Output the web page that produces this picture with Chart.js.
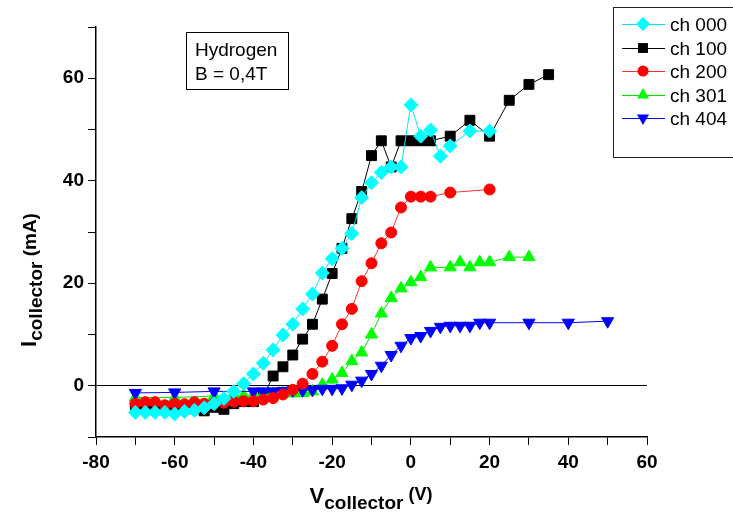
<!DOCTYPE html>
<html>
<head>
<meta charset="utf-8">
<title>Collector current vs voltage</title>
<script src="https://cdn.jsdelivr.net/npm/chart.js"></script>
<style>
    html, body { margin: 0; padding: 0; background: #fff; }
    #wrap { width: 733px; height: 515px; }
</style>
</head>
<body>
<div id="wrap"><canvas id="ivChart" width="733" height="515"></canvas></div>
<script>
// Measured I-V curves, one pair of arrays per channel
const ch000X = [-70, -67.5, -65, -62.5, -60, -57.5, -55, -52.5, -50, -47.5, -45, -42.5, -40, -37.5, -35, -32.5, -30, -27.5, -25, -22.5, -20, -17.5, -15, -12.5, -10, -7.5, -5, -2.5, 0, 2.5, 5, 7.5, 10, 15, 20];
const ch000Y = [-5.2, -5.2, -5.2, -5.2, -5.5, -5.0, -4.8, -4.3, -3.5, -2.5, -1.1, 0.4, 2.3, 4.4, 7.0, 9.9, 12.0, 15.0, 17.9, 22.0, 24.8, 26.8, 29.7, 36.7, 39.6, 41.6, 42.7, 42.7, 54.8, 48.7, 49.9, 44.8, 46.8, 49.7, 49.7];

const ch100X = [-70, -67.5, -65, -62.5, -60, -57.5, -55, -52.5, -50, -47.5, -45, -42.5, -40, -37.5, -35, -32.5, -30, -27.5, -25, -22.5, -20, -17.5, -15, -12.5, -10, -7.5, -5, -2.5, 0, 2.5, 5, 10, 15, 20, 25, 30, 35];
const ch100Y = [-4.5, -4.5, -4.5, -4.5, -4.3, -4.5, -4.5, -4.9, -4.2, -4.6, -3.5, -3.1, -3.1, -2.1, 1.9, 3.7, 6.0, 9.1, 12.0, 16.9, 21.9, 26.8, 32.6, 37.9, 44.9, 47.8, 42.7, 47.8, 47.8, 47.8, 47.8, 48.7, 51.8, 48.7, 55.7, 58.8, 60.7];

const ch200X = [-70, -67.5, -65, -62.5, -60, -57.5, -55, -52.5, -50, -47.5, -45, -42.5, -40, -37.5, -35, -32.5, -30, -27.5, -25, -22.5, -20, -17.5, -15, -12.5, -10, -7.5, -5, -2.5, 0, 2.5, 5, 10, 20];
const ch200Y = [-3.5, -3.2, -3.2, -3.8, -3.5, -3.6, -3.2, -3.5, -3.4, -3.3, -3.1, -3.0, -3.0, -2.7, -2.4, -1.7, -0.8, 0.4, 2.3, 4.7, 7.8, 12.0, 15.0, 20.4, 23.9, 27.8, 29.9, 34.8, 36.9, 36.9, 36.9, 37.7, 38.3];

const ch301X = [-70, -60, -50, -45, -42.5, -40, -37.5, -35, -32.5, -30, -27.5, -25, -22.5, -20, -17.5, -15, -12.5, -10, -7.5, -5, -2.5, 0, 2.5, 5, 10, 12.5, 15, 17.5, 20, 25, 30];
const ch301Y = [-2.3, -2.3, -2.0, -2.0, -1.9, -1.8, -1.7, -1.6, -1.5, -1.5, -1.4, -1.1, 0.2, 1.2, 2.5, 4.8, 6.5, 10.0, 14.1, 17.1, 19.0, 20.2, 21.2, 23.1, 23.1, 24.1, 23.1, 24.1, 24.1, 25.1, 25.1];

const ch404X = [-70, -60, -50, -40, -37.5, -35, -32.5, -30, -27.5, -25, -22.5, -20, -17.5, -15, -12.5, -10, -7.5, -5, -2.5, 0, 2.5, 5, 7.5, 10, 12.5, 15, 17.5, 20, 30, 40, 50];
const ch404Y = [-1.4, -1.3, -1.1, -1.1, -1.1, -1.1, -1.0, -0.9, -0.9, -0.8, -0.6, -0.6, -0.5, 0.2, 1.0, 2.3, 3.9, 6.0, 7.8, 9.3, 9.7, 10.7, 11.5, 11.7, 11.7, 11.7, 12.3, 12.3, 12.3, 12.3, 12.6];

const seriesNames = ['ch 000', 'ch 100', 'ch 200', 'ch 301', 'ch 404'];
const xTicks = [-80, -60, -40, -20, 0, 20, 40, 60];
const yTicks = [0, 20, 40, 60];

const FONT = "'Liberation Sans', Arial, sans-serif";

function toPoints(xs, ys) {
    return xs.map((x, i) => ({ x: x, y: ys[i] }));
}

// marker settings per channel
const styles = [
    { color: '#00ffff', line: '#00e5f0', shape: 'rectRot', radius: 7, rot: 0 },
    { color: '#000000', line: '#000000', shape: 'rect', radius: 7, rot: 0 },
    { color: '#ff0000', line: '#ff3030', shape: 'circle', radius: 5.5, rot: 0 },
    { color: '#00ff00', line: '#00e000', shape: 'triangle', radius: 7, rot: 0 },
    { color: '#0000ff', line: '#0000ff', shape: 'triangle', radius: 7, rot: 180 }
];
const drawOrder = [0, 4, 1, 3, 2];

const seriesData = [
    toPoints(ch000X, ch000Y),
    toPoints(ch100X, ch100Y),
    toPoints(ch200X, ch200Y),
    toPoints(ch301X, ch301Y),
    toPoints(ch404X, ch404Y)
];

const datasets = seriesData.map((pts, i) => ({
    label: seriesNames[i],
    data: pts,
    order: drawOrder[i],
    showLine: true,
    borderColor: styles[i].line,
    borderWidth: 1,
    backgroundColor: styles[i].color,
    pointBackgroundColor: styles[i].color,
    pointBorderColor: styles[i].color,
    pointBorderWidth: 1,
    pointStyle: styles[i].shape,
    pointRadius: styles[i].radius,
    pointRotation: styles[i].rot,
    tension: 0
}));

// small marker painter for the legend box
function drawMarker(ctx, s, x, y) {
    const r = s.radius;
    ctx.save();
    ctx.translate(x, y);
    ctx.rotate(s.rot * Math.PI / 180);
    ctx.fillStyle = s.color;
    ctx.beginPath();
    if (s.shape === 'circle') {
        ctx.arc(0, 0, r, 0, Math.PI * 2);
    } else if (s.shape === 'rect') {
        const h = r * Math.SQRT1_2;
        ctx.rect(-h, -h, 2 * h, 2 * h);
    } else if (s.shape === 'rectRot') {
        ctx.moveTo(0, -r); ctx.lineTo(r, 0); ctx.lineTo(0, r); ctx.lineTo(-r, 0);
    } else {
        ctx.moveTo(0, -r);
        ctx.lineTo(r * Math.sin(Math.PI * 2 / 3), -r * Math.cos(Math.PI * 2 / 3));
        ctx.lineTo(-r * Math.sin(Math.PI * 2 / 3), -r * Math.cos(Math.PI * 2 / 3));
    }
    ctx.closePath();
    ctx.fill();
    ctx.restore();
}

// text with a subscript, drawn left to right from (x, y) in the current transform
function drawSubscripted(ctx, parts, x, y) {
    let cx = x;
    parts.forEach(p => {
        ctx.font = 'bold ' + p.size + 'px ' + FONT;
        ctx.fillText(p.text, cx, y + p.dy);
        cx += ctx.measureText(p.text).width;
    });
    return cx - x;
}

function measureParts(ctx, parts) {
    let w = 0;
    parts.forEach(p => {
        ctx.font = 'bold ' + p.size + 'px ' + FONT;
        w += ctx.measureText(p.text).width;
    });
    return w;
}

const decorations = {
    id: 'decorations',
    afterDraw(chart) {
        const ctx = chart.ctx;
        ctx.save();
        ctx.fillStyle = '#000';
        ctx.textBaseline = 'alphabetic';
        ctx.textAlign = 'left';

        // x axis title
        const xParts = [
            { text: 'V', size: 22, dy: 0 },
            { text: 'collector', size: 19, dy: 6 },
            { text: ' (V)', size: 18, dy: -3 }
        ];
        const xw = measureParts(ctx, xParts);
        drawSubscripted(ctx, xParts, 371 - xw / 2, 503);

        // y axis title, rotated
        const yParts = [
            { text: 'I', size: 22, dy: 0 },
            { text: 'collector', size: 19, dy: 6 },
            { text: ' (mA)', size: 19, dy: 0 }
        ];
        const yw = measureParts(ctx, yParts);
        ctx.save();
        ctx.translate(36, 280);
        ctx.rotate(-Math.PI / 2);
        drawSubscripted(ctx, yParts, -yw / 2, 0);
        ctx.restore();

        // sample description box
        ctx.strokeStyle = '#000';
        ctx.lineWidth = 1;
        ctx.strokeRect(186.5, 32.5, 102, 57);
        ctx.font = '19px ' + FONT;
        ctx.fillText('Hydrogen', 195, 56);
        ctx.fillText('B = 0,4T', 195, 80);

        // legend box
        ctx.strokeStyle = '#222';
        ctx.strokeRect(613.5, 7.5, 130, 150);
        const rowY = [24, 48, 71, 95, 118];
        seriesNames.forEach((name, i) => {
            const s = styles[i];
            const y = rowY[i];
            ctx.strokeStyle = s.line;
            ctx.lineWidth = 1;
            ctx.beginPath();
            ctx.moveTo(622, y + 0.5);
            ctx.lineTo(665, y + 0.5);
            ctx.stroke();
            drawMarker(ctx, s, 643, y);
            ctx.fillStyle = '#000';
            ctx.font = '19px ' + FONT;
            ctx.fillText(name, 670, y + 7);
        });
        ctx.restore();
    }
};

const ctx = document.getElementById('ivChart').getContext('2d');
const ivChart = new Chart(ctx, {
    type: 'scatter',
    data: { datasets: datasets },
    options: {
        responsive: false,
        animation: false,
        devicePixelRatio: 1,
        layout: { padding: { left: 0, top: 27, right: 86, bottom: 0 } },
        plugins: {
            legend: { display: false },
            tooltip: { enabled: false }
        },
        scales: {
            x: {
                type: 'linear',
                min: -80,
                max: 60,
                afterFit: scale => { scale.height = 78; },
                border: { color: '#000', width: 1.5 },
                grid: { drawOnChartArea: false, tickColor: '#000', tickLength: 8, lineWidth: 1 },
                ticks: {
                    stepSize: 10,
                    padding: 6,
                    color: '#000',
                    font: { family: FONT, size: 19, weight: 'bold' },
                    callback: v => xTicks.includes(v) ? String(v) : ''
                }
            },
            y: {
                type: 'linear',
                min: -10,
                max: 70,
                afterFit: scale => { scale.width = 96; },
                border: { color: '#000', width: 1.5 },
                grid: {
                    color: c => (c.tick && c.tick.value === 0) ? '#000' : 'rgba(0,0,0,0)',
                    tickColor: '#000',
                    tickLength: 8,
                    lineWidth: 1
                },
                ticks: {
                    stepSize: 10,
                    padding: 4,
                    color: '#000',
                    font: { family: FONT, size: 19, weight: 'bold' },
                    callback: v => yTicks.includes(v) ? String(v) : ''
                }
            }
        }
    },
    plugins: [decorations]
});
</script>
</body>
</html>
